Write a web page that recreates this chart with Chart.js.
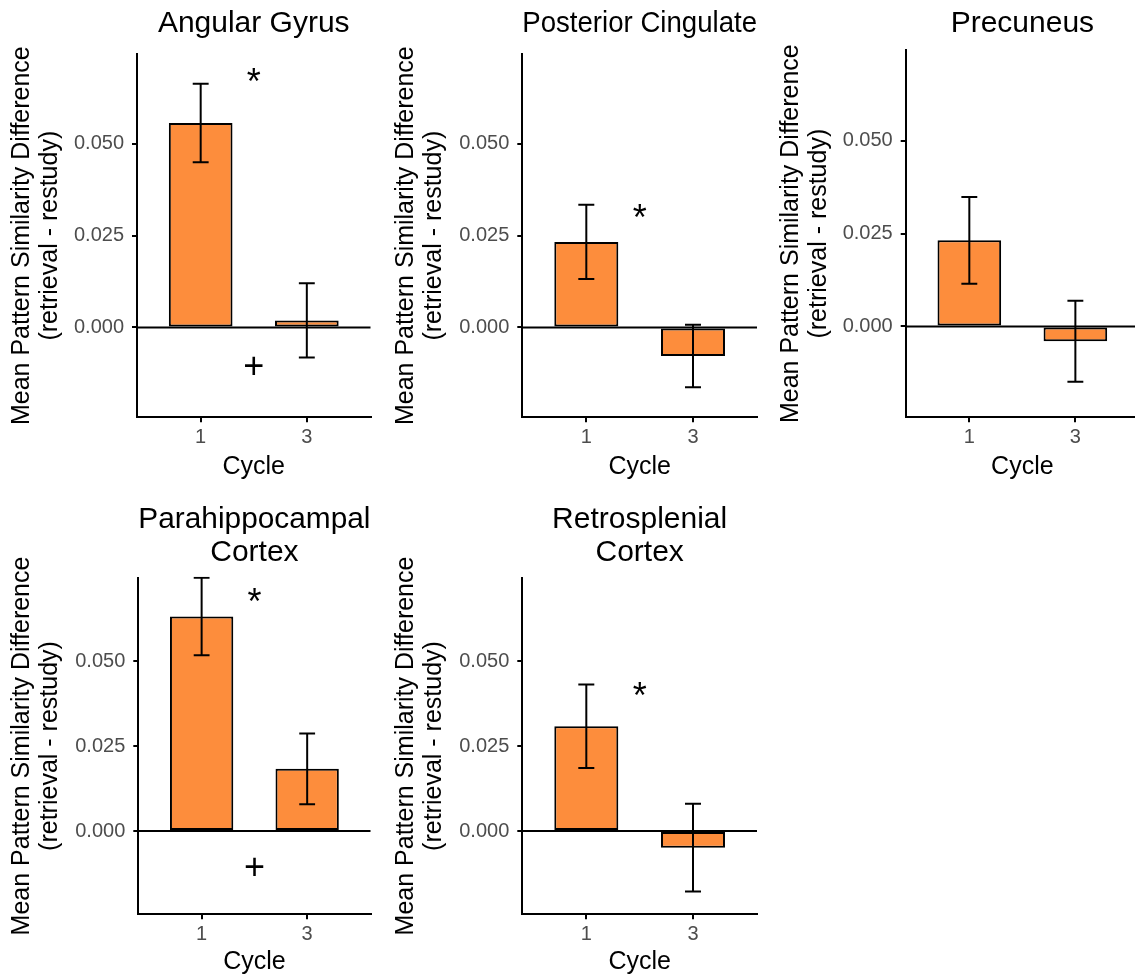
<!DOCTYPE html>
<html>
<head>
<meta charset="utf-8">
<script src="https://cdn.jsdelivr.net/npm/chart.js@4.4.1/dist/chart.umd.min.js"></script>
<style>
html, body { margin: 0; padding: 0; background: #ffffff; width: 1135px; height: 979px; overflow: hidden; position: relative; }
.panel { position: absolute; }
.panel canvas { display: block; }
</style>
</head>
<body>
<script>
// ---------------- DATA ----------------
const cycleLabels = ['1', '3'];
const regionTitles = [
  'Angular Gyrus',
  'Posterior Cingulate',
  'Precuneus',
  ['Parahippocampal', 'Cortex'],
  ['Retrosplenial', 'Cortex']
];
const angularGyrusMean = [0.0557, 0.0019];
const angularGyrusSE = [0.0107, 0.0101];
const posteriorCingulateMean = [0.0233, -0.0078];
const posteriorCingulateSE = [0.0101, 0.0085];
const precuneusMean = [0.0232, -0.0040];
const precuneusSE = [0.0117, 0.0109];
const parahippocampalMean = [0.0631, 0.0183];
const parahippocampalSE = [0.0114, 0.0104];
const retrosplenialMean = [0.0308, -0.0049];
const retrosplenialSE = [0.0123, 0.0129];
const starY = [0.0689, 0.0316, null, 0.0693, 0.0419];
const plusY = [-0.0103, null, null, -0.0103, null];
const yTicks = [0, 0.025, 0.050];
const yLimits = [-0.0245, 0.0745];
const yTitleLines = ['Mean Pattern Similarity Difference', '(retrieval - restudy)'];
const xTitle = 'Cycle';

// ---------------- STYLE / LAYOUT ----------------
const FONT = "'Liberation Sans', Arial, Helvetica, sans-serif";
const BAR_FILL = '#FD8D3C';
const TICK_COLOR = '#4D4D4D';
const CAP_WIDTH = 0.15;      // error bar cap width in x units
const X_RANGE = [0.4, 2.6];  // discrete scale expansion

const layouts = [
  { left: 0,   top: 0,   w: 380, h: 490, axisX: 137,   areaTop: 54,   areaBottom: 417.3, areaRight: 370.5, titleTop: 23.5, yTitleMid: 21.7, xTitleMid: 466.7 },
  { left: 380, top: 0,   w: 380, h: 490, axisX: 142.3, areaTop: 54,   areaBottom: 417.3, areaRight: 377,   titleTop: 23.8, yTitleMid: 25.8, xTitleMid: 466.7 },
  { left: 760, top: 0,   w: 380, h: 490, axisX: 145.7, areaTop: 50,   areaBottom: 417.3, areaRight: 379,   titleTop: 23.8, yTitleMid: 30.8, xTitleMid: 466.7 },
  { left: 0,   top: 490, w: 380, h: 489, axisX: 138.3, areaTop: 87.7, areaBottom: 424.3, areaRight: 370.5, titleTop: 30,   yTitleMid: 22.2, xTitleMid: 471.7 },
  { left: 380, top: 490, w: 380, h: 489, axisX: 142.3, areaTop: 87.7, areaBottom: 424.3, areaRight: 377,   titleTop: 30,   yTitleMid: 25.8, xTitleMid: 471.7 }
];

const panelData = [
  { mean: angularGyrusMean, se: angularGyrusSE },
  { mean: posteriorCingulateMean, se: posteriorCingulateSE },
  { mean: precuneusMean, se: precuneusSE },
  { mean: parahippocampalMean, se: parahippocampalSE },
  { mean: retrosplenialMean, se: retrosplenialSE }
];

const TITLE_SIZE = 30, TITLE_LH = 1.08;
const AXIS_TITLE_SIZE = 25, AXIS_TITLE_LH = 1.13;
const TICK_SIZE = 20;

function drawCenteredGlyph(ctx, text, cx, cy) {
  const m = ctx.measureText(text);
  const w = m.actualBoundingBoxRight + m.actualBoundingBoxLeft;
  const hTop = m.actualBoundingBoxAscent, hBot = m.actualBoundingBoxDescent;
  ctx.textAlign = 'left';
  ctx.textBaseline = 'alphabetic';
  ctx.fillText(text, cx - w / 2 + m.actualBoundingBoxLeft, cy + (hTop - hBot) / 2);
}

const extrasPlugin = {
  id: 'extras',
  afterDatasetsDraw(chart) {
    const p = chart.$panel;
    const { ctx, chartArea: a } = chart;
    const x = chart.scales.x, y = chart.scales.y;
    ctx.save();
    ctx.beginPath();
    ctx.rect(a.left, a.top - 1, a.right - a.left + 2, a.bottom - a.top + 2);
    ctx.clip();
    ctx.strokeStyle = '#000';
    ctx.lineWidth = 2;
    // error bars
    p.mean.forEach((m, i) => {
      const cx = x.getPixelForValue(i + 1);
      const half = Math.abs(x.getPixelForValue(i + 1 + CAP_WIDTH / 2) - cx);
      const hi = y.getPixelForValue(m + p.se[i]);
      const lo = y.getPixelForValue(m - p.se[i]);
      ctx.beginPath();
      ctx.moveTo(cx, hi); ctx.lineTo(cx, lo);
      ctx.moveTo(cx - half, hi); ctx.lineTo(cx + half, hi);
      ctx.moveTo(cx - half, lo); ctx.lineTo(cx + half, lo);
      ctx.stroke();
    });
    // zero reference line
    const y0 = y.getPixelForValue(0);
    ctx.beginPath();
    ctx.moveTo(a.left, y0); ctx.lineTo(a.right, y0);
    ctx.stroke();
    // significance marks, placed between the two cycles
    const mx = x.getPixelForValue((1 + p.mean.length) / 2);
    ctx.fillStyle = '#000';
    ctx.font = '36px ' + FONT;
    if (p.star !== null) drawCenteredGlyph(ctx, '*', mx, y.getPixelForValue(p.star));
    if (p.plus !== null) drawCenteredGlyph(ctx, '+', mx, y.getPixelForValue(p.plus));
    ctx.restore();
  }
};

layouts.forEach((L, k) => {
  const div = document.createElement('div');
  div.className = 'panel';
  div.style.left = L.left + 'px';
  div.style.top = L.top + 'px';
  div.style.width = L.w + 'px';
  div.style.height = L.h + 'px';
  const canvas = document.createElement('canvas');
  canvas.width = L.w;
  canvas.height = L.h;
  canvas.style.width = L.w + 'px';
  canvas.style.height = L.h + 'px';
  div.appendChild(canvas);
  document.body.appendChild(div);

  const d = panelData[k];
  const title = regionTitles[k];
  const nLines = Array.isArray(title) ? title.length : 1;
  const tLH = TITLE_SIZE * TITLE_LH;
  const tPadTop = L.titleTop - tLH / 2;
  const tPadBottom = L.areaTop - tPadTop - nLines * tLH;
  const aLH = AXIS_TITLE_SIZE * AXIS_TITLE_LH;

  new Chart(canvas, {
    type: 'bar',
    data: {
      datasets: [{
        data: d.mean.map((v, i) => ({ x: i + 1, y: v })),
        backgroundColor: BAR_FILL,
        borderColor: '#000000',
        borderWidth: 2,
        borderSkipped: false,
        barPercentage: 0.6,
        categoryPercentage: 1.0
      }]
    },
    options: {
      responsive: false,
      animation: false,
      devicePixelRatio: 1,
      layout: { padding: { left: 0, top: 0, right: L.w - L.areaRight, bottom: 0 } },
      plugins: {
        legend: { display: false },
        tooltip: { enabled: false },
        title: {
          display: true,
          text: title,
          fullSize: false,
          color: '#000000',
          font: { family: FONT, size: TITLE_SIZE, weight: 'normal', lineHeight: TITLE_LH },
          padding: { top: tPadTop, bottom: tPadBottom }
        }
      },
      scales: {
        x: {
          type: 'linear',
          min: X_RANGE[0],
          max: X_RANGE[1],
          offset: false,
          afterBuildTicks: s => { s.ticks = cycleLabels.map((_, i) => ({ value: i + 1 })); },
          afterFit: s => { s.height = L.h - L.areaBottom; },
          grid: { display: true, offset: false, drawOnChartArea: false, drawTicks: true, tickLength: 5, color: '#000000', lineWidth: 2 },
          border: { display: true, color: '#000000', width: 2 },
          ticks: {
            callback: v => cycleLabels[Math.round(v) - 1],
            color: TICK_COLOR,
            font: { family: FONT, size: TICK_SIZE },
            padding: 3,
            maxRotation: 0,
            autoSkip: false
          },
          title: {
            display: true,
            text: xTitle,
            color: '#000000',
            font: { family: FONT, size: AXIS_TITLE_SIZE, lineHeight: AXIS_TITLE_LH },
            padding: { top: 0, bottom: (L.h - L.xTitleMid) - aLH / 2 }
          }
        },
        y: {
          min: yLimits[0],
          max: yLimits[1],
          afterBuildTicks: s => { s.ticks = yTicks.map(v => ({ value: v })); },
          afterFit: s => { s.width = L.axisX; },
          grid: { display: true, drawOnChartArea: false, drawTicks: true, tickLength: 5, color: '#000000', lineWidth: 2 },
          border: { display: true, color: '#000000', width: 2 },
          ticks: {
            callback: v => Number(v).toFixed(3),
            color: TICK_COLOR,
            font: { family: FONT, size: TICK_SIZE },
            padding: 8
          },
          title: {
            display: true,
            text: yTitleLines,
            color: '#000000',
            font: { family: FONT, size: AXIS_TITLE_SIZE, lineHeight: AXIS_TITLE_LH },
            padding: { top: L.yTitleMid - aLH / 2, bottom: 0 }
          }
        }
      }
    },
    plugins: [{
      id: 'attach',
      beforeInit(c) { c.$panel = { mean: d.mean, se: d.se, star: starY[k], plus: plusY[k] }; }
    }, extrasPlugin]
  });
});
</script>
</body>
</html>
